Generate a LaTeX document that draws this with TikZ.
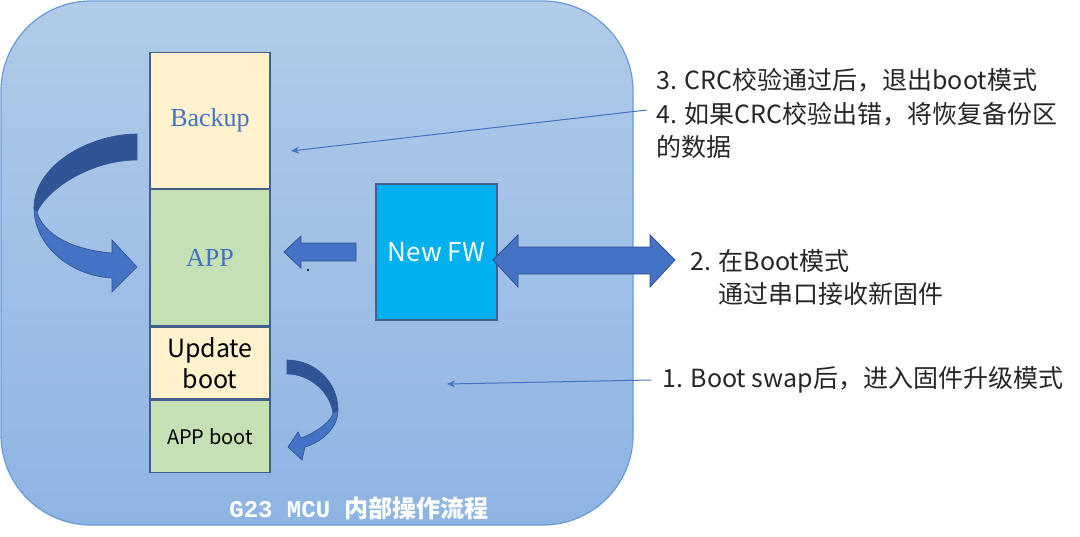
\documentclass[tikz,border=0pt]{standalone}
\usepackage{fontspec}
\setmainfont{Liberation Serif}
\setmonofont{Liberation Mono}
\newfontfamily\cjk{Noto Sans CJK SC}
\usetikzlibrary{arrows.meta,positioning}

\definecolor{panelTop}{HTML}{B1CBE9}
\definecolor{panelBot}{HTML}{8EB4E3}
\definecolor{panelEdge}{HTML}{6A9BD8}
\definecolor{memEdge}{HTML}{41608F}
\definecolor{memYellow}{HTML}{FFF2CC}
\definecolor{memGreen}{HTML}{C5E0B4}
\definecolor{arrowBlue}{HTML}{4472C4}
\definecolor{arrowDark}{HTML}{2F5597}
\definecolor{arrowEdge}{HTML}{2F528F}
\definecolor{fwBlue}{HTML}{00B0F0}
\definecolor{noteGrey}{HTML}{262626}

\tikzset{
  panel/.style={draw=panelEdge, line width=0.6pt, top color=panelTop, bottom color=panelBot, rounded corners=45pt},
  memblock/.style={draw=memEdge, line width=0.6pt, minimum width=60pt, inner sep=0pt, anchor=north},
  serifname/.style={text=arrowBlue, font=\fontsize{13}{15}\selectfont},
  sansname/.style={text=black, font=\cjk\fontsize{12.5}{15.5}\selectfont, align=center},
  note/.style={text=noteGrey, font=\cjk\fontsize{12.5}{16.75}\selectfont, align=left, anchor=west, inner sep=0pt},
  thinarrow/.style={draw=arrowBlue, line width=0.5pt, -{Stealth[length=4pt,width=3.5pt]}},
  blockarrow/.style={fill=arrowBlue, draw=arrowEdge, line width=0.4pt},
  ribbondark/.style={fill=arrowDark, draw=arrowEdge, line width=0.3pt},
  ribbonlight/.style={fill=arrowBlue, draw=arrowEdge, line width=0.3pt}
}

\begin{document}
\begin{tikzpicture}[x=0.5pt,y=-0.5pt]
\useasboundingbox (0,0) rectangle (1080,536);
% background panel
\path[panel] (1,1) rectangle (633,525);
\node[text=white, font=\fontsize{12}{14}\selectfont] (title) at (359,508) {\ttfamily\bfseries G23 MCU \cjk 内部操作流程};

% memory map
\node[memblock, fill=memYellow, minimum height=68pt, serifname] (backup) at (210,52) {Backup};
\node[memblock, fill=memGreen, minimum height=68pt, serifname, below=0pt of backup] (app) {APP};
\node[memblock, fill=memYellow, minimum height=36pt, sansname, below=0pt of app] (updboot) {Update\\boot};
\node[memblock, fill=memGreen, minimum height=36pt, sansname, font=\cjk\fontsize{10}{12}\selectfont, below=0pt of updboot] (appboot) {APP boot};

% new firmware
\node[draw=memEdge, line width=0.6pt, fill=fwBlue, minimum width=60.5pt, minimum height=68pt, inner sep=0pt,
      text=white, font=\cjk\fontsize{13}{15}\selectfont] (newfw) at (436.5,252) {New FW};

% block arrows
\draw[blockarrow] (356,243) -- (301,243) -- (301,236) -- (284,252) -- (301,268) -- (301,261) -- (356,261) -- cycle;
\fill (308,270) circle (0.6pt);
\draw[blockarrow] (493,260) -- (518,235) -- (518,247) -- (650,247) -- (650,235) -- (675,260)
   -- (650,287) -- (650,274) -- (518,274) -- (518,287) -- cycle;

% big curved arrow Backup -> APP
\draw[ribbondark] (137,134) .. controls (90,134) and (34,165) .. (34,208) -- (37,212)
   .. controls (48,188) and (92,160) .. (137,160) -- cycle;
\draw[ribbonlight] (34,208) .. controls (34,245) and (70,276) .. (112,278) -- (112,292) -- (137,267)
   -- (112,240) -- (112,253) .. controls (75,250) and (44,236) .. (37,212) -- cycle;

% small curved arrow Update boot -> APP boot
\draw[ribbondark] (287,360) .. controls (315,360) and (338,382) .. (338,410) -- (333,413)
   .. controls (330,392) and (310,374) .. (287,374) -- cycle;
\draw[ribbonlight] (338,410) .. controls (338,428) and (322,442) .. (305,447) -- (302,460) -- (288,447)
   -- (298,432) -- (301,438) .. controls (318,432) and (332,420) .. (333,413) -- cycle;

% notes
\node[note] (note34) at (656,113.5) {3. CRC校验通过后，退出boot模式\\4. 如果CRC校验出错，将恢复备份区\\的数据};
\node[note] (note2) at (690,277.5) {2. 在Boot模式\\\hspace*{14pt}通过串口接收新固件};
\node[note] (note1) at (662,380) {1. Boot swap后，进入固件升级模式};

\coordinate (n34s) at (647,110);
\coordinate (n34e) at (291,151);
\coordinate (n1s) at (651,380);
\coordinate (n1e) at (447,384);
\draw[thinarrow] (n34s) -- (n34e);
\draw[thinarrow] (n1s) -- (n1e);
\end{tikzpicture}
\end{document}
